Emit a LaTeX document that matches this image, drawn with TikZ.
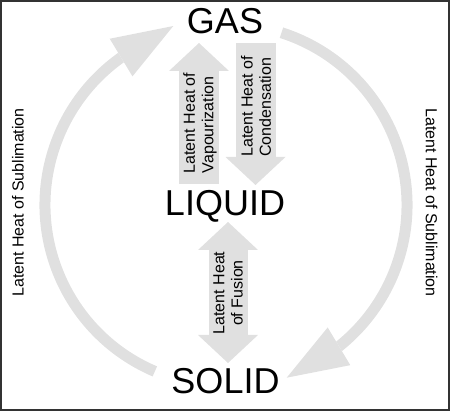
\documentclass[tikz,border=0pt]{standalone}
\usepackage{fontspec}
\setmainfont{Liberation Sans}
\usetikzlibrary{arrows.meta}
\definecolor{lightgrey}{RGB}{224,224,224}
\definecolor{framegrey}{RGB}{51,51,51}
\tikzset{
 state/.style={font=\fontsize{36}{40}\selectfont,anchor=base,inner sep=0pt},
 heat/.style={font=\fontsize{16}{18.3}\selectfont,inner sep=0pt},
 block/.style={lightgrey,line width=40pt,>={Triangle[length=28pt,width=60pt,line width=0pt]}},
 subarc/.style={lightgrey,line width=11pt,-{Triangle[length=61pt,width=44pt,line width=0pt]}}
}
\begin{document}
\begin{tikzpicture}[x=1pt,y=1pt]
 \useasboundingbox (0,0) rectangle (450,411);
 \draw[framegrey,line width=2pt] (1,1) rectangle (449,410);

 \node[state](0) at (225,377.7){GAS};
 \node[state](1) at (225,195){LIQUID};
 \node[state](2) at (225.5,17.7){SOLID};

 \coordinate (3) at (199,227);
 \coordinate (4) at (199,368);
 \coordinate (5) at (255.5,368);
 \coordinate (6) at (255.5,226);
 \coordinate (7) at (228,189);
 \coordinate (8) at (228,48);
 \coordinate (9) at (226,206);
 \coordinate (10) at (173.3,385);
 \coordinate (11) at (286.7,33.3);

 \draw [block,->] (3) -- (4);
 \draw [block,->] (5) -- (6);
 \draw [block,line width=39pt,<->] (7) -- (8);

% \draw [subarc] (9) circle (181);
 \draw [subarc] (9) ++(246.85:181) arc[start angle=246.85,end angle=125.6,radius=181] -- (10);
 \draw [subarc] (9) ++(72.15:181) arc[start angle=72.15,end angle=-51.2,radius=181] -- (11);

 \node[heat,rotate=90,align=left](12) at (200,288){Latent Heat of\\Vapourization};
 \node[heat,rotate=90,align=left](13) at (256,304.6){Latent Heat of\\Condensation};
 \node[heat,rotate=90,align=center](14) at (228,118){Latent Heat\\of Fusion};
 \node[heat,rotate=90](15) at (18,208.5){Latent Heat of Sublimation};
 \node[heat,rotate=-90](16) at (431.7,208.5){Latent Heat of Sublimation};

\end{tikzpicture}
\end{document}
